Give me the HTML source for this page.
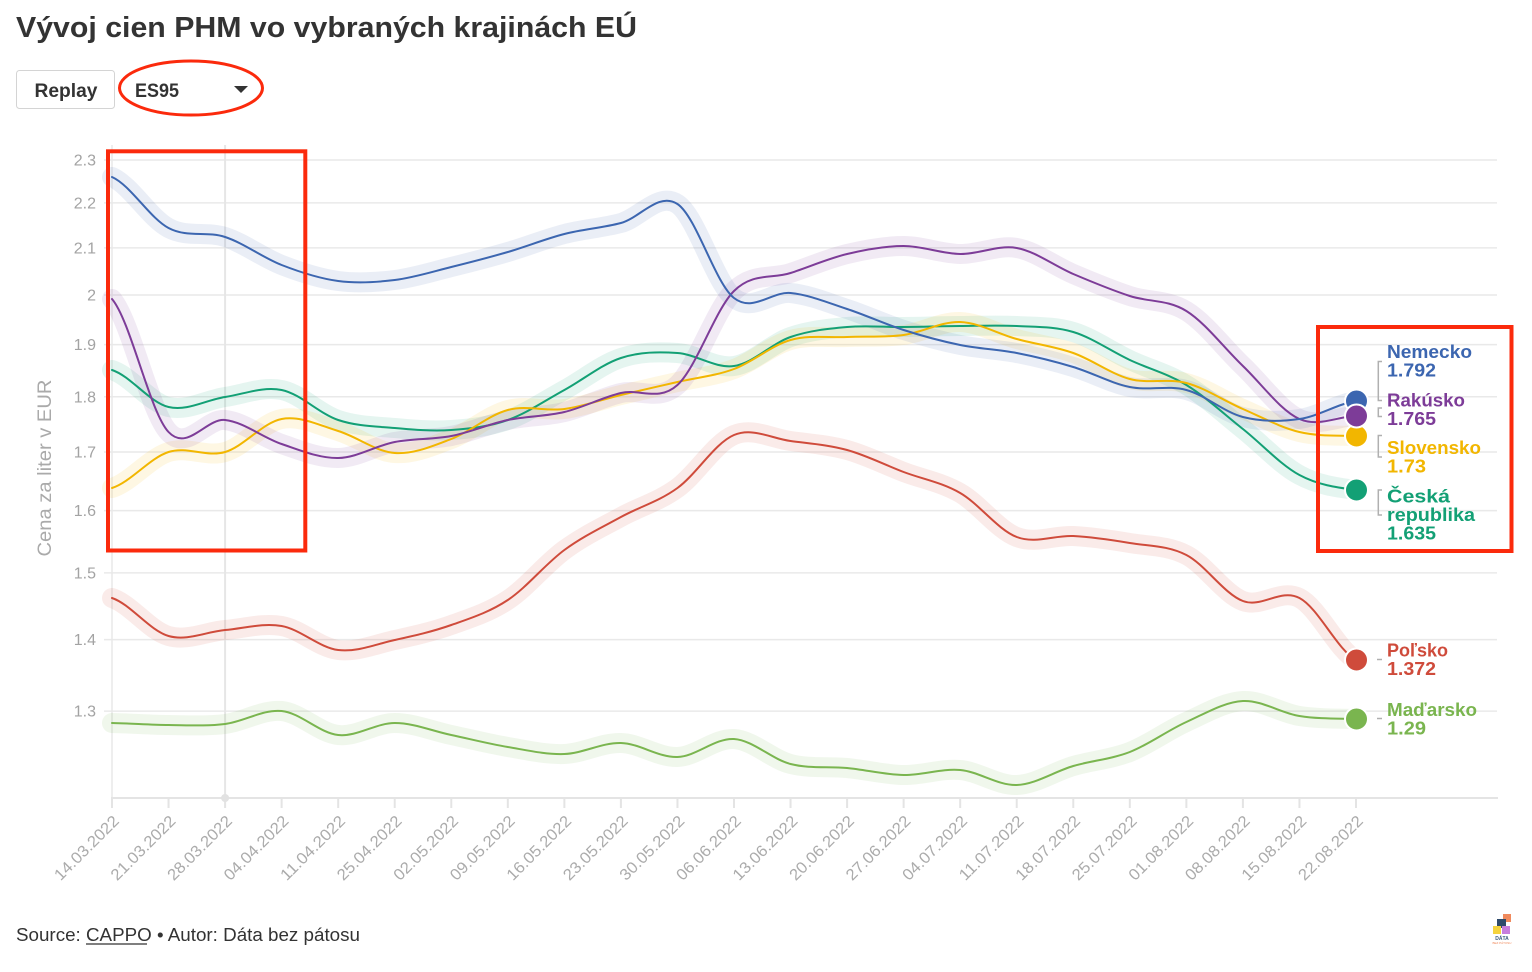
<!DOCTYPE html>
<html><head><meta charset="utf-8"><style>
html,body{margin:0;padding:0;background:#fff;}
svg{display:block;font-family:"Liberation Sans",sans-serif;}
</style></head><body>
<svg width="1532" height="972" viewBox="0 0 1532 972" xmlns="http://www.w3.org/2000/svg">
<rect width="1532" height="972" fill="#fff"/>
<!-- Title -->
<text x="16" y="37" font-size="29" font-weight="bold" fill="#333" textLength="621" lengthAdjust="spacingAndGlyphs">Vývoj cien PHM vo vybraných krajinách EÚ</text>
<!-- Replay button -->
<rect x="16.5" y="70.5" width="98" height="38" rx="3" fill="#fff" stroke="#d4d4d4"/>
<text x="34.5" y="97" font-size="19" font-weight="bold" fill="#333" textLength="63" lengthAdjust="spacingAndGlyphs">Replay</text>
<!-- Dropdown -->
<text x="135" y="97" font-size="19" font-weight="bold" fill="#333" textLength="44" lengthAdjust="spacingAndGlyphs">ES95</text>
<polygon points="234,86 248,86 241,93" fill="#333"/>
<ellipse cx="191" cy="88" rx="71.5" ry="27" fill="none" stroke="#fb2a0c" stroke-width="3"/>

<!-- gridlines -->
<g stroke="#e9e9e9" stroke-width="1.5">
<line x1="104" y1="160" x2="1497" y2="160"/>
<line x1="104" y1="202.9" x2="1497" y2="202.9"/>
<line x1="104" y1="247.9" x2="1497" y2="247.9"/>
<line x1="104" y1="295" x2="1497" y2="295"/>
<line x1="104" y1="344.6" x2="1497" y2="344.6"/>
<line x1="104" y1="396.8" x2="1497" y2="396.8"/>
<line x1="104" y1="452" x2="1497" y2="452"/>
<line x1="104" y1="510.6" x2="1497" y2="510.6"/>
<line x1="104" y1="572.9" x2="1497" y2="572.9"/>
<line x1="104" y1="639.6" x2="1497" y2="639.6"/>
<line x1="104" y1="711.1" x2="1497" y2="711.1"/>
</g>
<line x1="112" y1="145" x2="112" y2="798" stroke="#e8e8e8" stroke-width="1.5"/>
<line x1="225.09" y1="145" x2="225.09" y2="798" stroke="#e6e6e6" stroke-width="2"/>
<!-- x axis -->
<line x1="111" y1="798" x2="1498" y2="798" stroke="#e4e4e4" stroke-width="2"/>
<g stroke="#e4e4e4" stroke-width="2">
<line x1="112" y1="798" x2="112" y2="808"/><line x1="168.55" y1="798" x2="168.55" y2="808"/><line x1="225.09" y1="798" x2="225.09" y2="808"/><line x1="281.64" y1="798" x2="281.64" y2="808"/><line x1="338.18" y1="798" x2="338.18" y2="808"/><line x1="394.73" y1="798" x2="394.73" y2="808"/><line x1="451.27" y1="798" x2="451.27" y2="808"/><line x1="507.82" y1="798" x2="507.82" y2="808"/><line x1="564.36" y1="798" x2="564.36" y2="808"/><line x1="620.91" y1="798" x2="620.91" y2="808"/><line x1="677.45" y1="798" x2="677.45" y2="808"/><line x1="734" y1="798" x2="734" y2="808"/><line x1="790.55" y1="798" x2="790.55" y2="808"/><line x1="847.09" y1="798" x2="847.09" y2="808"/><line x1="903.64" y1="798" x2="903.64" y2="808"/><line x1="960.18" y1="798" x2="960.18" y2="808"/><line x1="1016.73" y1="798" x2="1016.73" y2="808"/><line x1="1073.27" y1="798" x2="1073.27" y2="808"/><line x1="1129.82" y1="798" x2="1129.82" y2="808"/><line x1="1186.36" y1="798" x2="1186.36" y2="808"/><line x1="1242.91" y1="798" x2="1242.91" y2="808"/><line x1="1299.45" y1="798" x2="1299.45" y2="808"/><line x1="1356" y1="798" x2="1356" y2="808"/>
</g>
<circle cx="225.09" cy="798" r="4" fill="#e2e2e2"/>

<!-- y tick labels -->
<g font-size="16" fill="#a3a3a3" text-anchor="end">
<text x="96" y="165.5">2.3</text>
<text x="96" y="208.4">2.2</text>
<text x="96" y="253.4">2.1</text>
<text x="96" y="300.5">2</text>
<text x="96" y="350.1">1.9</text>
<text x="96" y="402.3">1.8</text>
<text x="96" y="457.5">1.7</text>
<text x="96" y="516.1">1.6</text>
<text x="96" y="578.4">1.5</text>
<text x="96" y="645.1">1.4</text>
<text x="96" y="716.6">1.3</text>
</g>
<text transform="translate(51,468) rotate(-90)" text-anchor="middle" font-size="19" fill="#aaa" textLength="177" lengthAdjust="spacingAndGlyphs">Cena za liter v EUR</text>

<!-- x labels -->
<g font-size="16" fill="#ababab" text-anchor="end">
<text transform="translate(120,822) rotate(-45)" textLength="84" lengthAdjust="spacingAndGlyphs">14.03.2022</text>
<text transform="translate(176.55,822) rotate(-45)" textLength="84" lengthAdjust="spacingAndGlyphs">21.03.2022</text>
<text transform="translate(233.09,822) rotate(-45)" textLength="84" lengthAdjust="spacingAndGlyphs">28.03.2022</text>
<text transform="translate(289.64,822) rotate(-45)" textLength="84" lengthAdjust="spacingAndGlyphs">04.04.2022</text>
<text transform="translate(346.18,822) rotate(-45)" textLength="84" lengthAdjust="spacingAndGlyphs">11.04.2022</text>
<text transform="translate(402.73,822) rotate(-45)" textLength="84" lengthAdjust="spacingAndGlyphs">25.04.2022</text>
<text transform="translate(459.27,822) rotate(-45)" textLength="84" lengthAdjust="spacingAndGlyphs">02.05.2022</text>
<text transform="translate(515.82,822) rotate(-45)" textLength="84" lengthAdjust="spacingAndGlyphs">09.05.2022</text>
<text transform="translate(572.36,822) rotate(-45)" textLength="84" lengthAdjust="spacingAndGlyphs">16.05.2022</text>
<text transform="translate(628.91,822) rotate(-45)" textLength="84" lengthAdjust="spacingAndGlyphs">23.05.2022</text>
<text transform="translate(685.45,822) rotate(-45)" textLength="84" lengthAdjust="spacingAndGlyphs">30.05.2022</text>
<text transform="translate(742,822) rotate(-45)" textLength="84" lengthAdjust="spacingAndGlyphs">06.06.2022</text>
<text transform="translate(798.55,822) rotate(-45)" textLength="84" lengthAdjust="spacingAndGlyphs">13.06.2022</text>
<text transform="translate(855.09,822) rotate(-45)" textLength="84" lengthAdjust="spacingAndGlyphs">20.06.2022</text>
<text transform="translate(911.64,822) rotate(-45)" textLength="84" lengthAdjust="spacingAndGlyphs">27.06.2022</text>
<text transform="translate(968.18,822) rotate(-45)" textLength="84" lengthAdjust="spacingAndGlyphs">04.07.2022</text>
<text transform="translate(1024.73,822) rotate(-45)" textLength="84" lengthAdjust="spacingAndGlyphs">11.07.2022</text>
<text transform="translate(1081.27,822) rotate(-45)" textLength="84" lengthAdjust="spacingAndGlyphs">18.07.2022</text>
<text transform="translate(1137.82,822) rotate(-45)" textLength="84" lengthAdjust="spacingAndGlyphs">25.07.2022</text>
<text transform="translate(1194.36,822) rotate(-45)" textLength="84" lengthAdjust="spacingAndGlyphs">01.08.2022</text>
<text transform="translate(1250.91,822) rotate(-45)" textLength="84" lengthAdjust="spacingAndGlyphs">08.08.2022</text>
<text transform="translate(1307.45,822) rotate(-45)" textLength="84" lengthAdjust="spacingAndGlyphs">15.08.2022</text>
<text transform="translate(1364,822) rotate(-45)" textLength="84" lengthAdjust="spacingAndGlyphs">22.08.2022</text>
</g>

<!-- series paths -->
<defs>
<path id="pBlue" d="M112,177 C130.85,185.5 149.7,218 168.55,228 S206.24,230.83 225.09,237 S262.79,257.67 281.64,265 S319.33,278.5 338.18,281 S375.88,282.33 394.73,280 S432.42,271.67 451.27,267 S488.97,257.5 507.82,252 S545.51,238.83 564.36,234 S602.06,228 620.91,223 S658.6,191.5 677.45,204 S715.15,283.17 734,298 S771.7,291.17 790.55,293 S828.24,302.83 847.09,309 S884.79,324 903.64,330 S941.33,341.17 960.18,345 S997.88,349.33 1016.73,353 S1054.42,361.33 1073.27,367 S1110.97,383.17 1129.82,387 S1167.51,385 1186.36,390 S1224.06,412.17 1242.91,417 S1280.6,421.67 1299.45,419 S1337.15,404 1356,401"/>
<path id="pPurple" d="M112,299 C130.85,321.17 149.7,411.83 168.55,432 S206.24,418 225.09,420 S262.79,437.67 281.64,444 S319.33,458.33 338.18,458 S375.88,445.67 394.73,442 S432.42,439.67 451.27,436 S488.97,424 507.82,420 S545.51,416.5 564.36,412 S602.06,397.5 620.91,393 S658.6,402 677.45,385 S715.15,309.67 734,291 S771.7,279.17 790.55,273 S828.24,258.5 847.09,254 S884.79,246 903.64,246 S941.33,253.67 960.18,254 S997.88,244.67 1016.73,248 S1054.42,266 1073.27,274 S1110.97,289.83 1129.82,296 S1167.51,299.33 1186.36,311 S1224.06,348 1242.91,366 S1280.6,410.67 1299.45,419 S1337.15,416.5 1356,416"/>
<path id="pYellow" d="M112,488 C130.85,482 149.7,458 168.55,452 S206.24,457.5 225.09,452 S262.79,422.5 281.64,419 S319.33,425.33 338.18,431 S375.88,451.67 394.73,453 S432.42,446.17 451.27,439 S488.97,415 507.82,410 S545.51,411.5 564.36,409 S602.06,399.5 620.91,395 S658.6,386.33 677.45,382 S715.15,376 734,369 S771.7,345.33 790.55,340 S828.24,337.83 847.09,337 S884.79,337.5 903.64,335 S941.33,321.33 960.18,322 S997.88,333.83 1016.73,339 S1054.42,346.33 1073.27,353 S1110.97,374 1129.82,379 S1167.51,378 1186.36,383 S1224.06,400.83 1242.91,409 S1280.6,427.5 1299.45,432 S1337.15,435.33 1356,436"/>
<path id="pGreen" d="M112,370 C130.85,376.17 149.7,402.5 168.55,407 S206.24,399.83 225.09,397 S262.79,386.17 281.64,390 S319.33,413.67 338.18,420 S375.88,426.33 394.73,428 S432.42,431.33 451.27,430 S488.97,426.67 507.82,420 S545.51,400.33 564.36,390 S602.06,364.17 620.91,358 S658.6,351.67 677.45,353 S715.15,368.67 734,366 S771.7,343.5 790.55,337 S828.24,328.67 847.09,327 S884.79,327.17 903.64,327 S941.33,326.17 960.18,326 S997.88,325 1016.73,326 S1054.42,326.33 1073.27,332 S1110.97,351.17 1129.82,360 S1167.51,373.5 1186.36,385 S1224.06,414 1242.91,429 S1280.6,464.83 1299.45,475 S1337.15,487.5 1356,490"/>
<path id="pRed" d="M112,598 C130.85,604.33 149.7,630.67 168.55,636 S206.24,631.67 225.09,630 S262.79,622.67 281.64,626 S319.33,647.67 338.18,650 S375.88,644.17 394.73,640 S432.42,631.67 451.27,625 S488.97,612.5 507.82,600 S545.51,563.83 564.36,550 S602.06,527.33 620.91,517 S658.6,501.67 677.45,488 S715.15,442.83 734,435 S771.7,438.5 790.55,441 S828.24,444.83 847.09,450 S884.79,464.83 903.64,472 S941.33,482.17 960.18,493 S997.88,529.83 1016.73,537 S1054.42,535 1073.27,536 S1110.97,539.83 1129.82,543 S1167.51,545.33 1186.36,555 S1224.06,593.83 1242.91,601 S1280.6,588.17 1299.45,598 S1337.15,649.67 1356,660"/>
<path id="pLime" d="M112,723 C130.85,723.33 149.7,724.83 168.55,725 S206.24,726.33 225.09,724 S262.79,709.17 281.64,711 S319.33,733 338.18,735 S375.88,723 394.73,723 S432.42,731 451.27,735 S488.97,743.83 507.82,747 S545.51,754.67 564.36,754 S602.06,742.5 620.91,743 S658.6,757.67 677.45,757 S715.15,737.83 734,739 S771.7,759.17 790.55,764 S828.24,766.17 847.09,768 S884.79,774.67 903.64,775 S941.33,768.33 960.18,770 S997.88,785.67 1016.73,785 S1054.42,771.5 1073.27,766 S1110.97,759.33 1129.82,752 S1167.51,730.5 1186.36,722 S1224.06,702 1242.91,701 S1280.6,713 1299.45,716 S1337.15,718.5 1356,719"/>
</defs>
<!-- halos -->
<g fill="none" stroke-width="20" stroke-linecap="round" stroke-linejoin="round" stroke-opacity="0.11">
<use href="#pLime" stroke="#7ab54f"/>
<use href="#pRed" stroke="#cf4b3b"/>
<use href="#pGreen" stroke="#13a075"/>
<use href="#pYellow" stroke="#f5b800"/>
<use href="#pPurple" stroke="#7d3c98"/>
<use href="#pBlue" stroke="#3c66b0"/>
</g>
<!-- lines -->
<g fill="none" stroke-width="2" stroke-linecap="round" stroke-linejoin="round">
<use href="#pLime" stroke="#7ab54f"/>
<use href="#pRed" stroke="#cf4b3b"/>
<use href="#pGreen" stroke="#13a075"/>
<use href="#pYellow" stroke="#f2b600"/>
<use href="#pPurple" stroke="#7d3c98"/>
<use href="#pBlue" stroke="#3c66b0"/>
</g>

<!-- markers -->
<g stroke="#fff" stroke-width="2">
<circle cx="1356.5" cy="719" r="11.5" fill="#7ab54f"/>
<circle cx="1356.5" cy="660" r="11.5" fill="#cf4b3b"/>
<circle cx="1356.5" cy="490" r="11.5" fill="#13a075"/>
<circle cx="1356.5" cy="436" r="11.5" fill="#f2b600"/>
<circle cx="1356.5" cy="401" r="11.5" fill="#3c66b0"/>
<circle cx="1356.5" cy="416" r="11.5" fill="#7d3c98"/>
</g>
<!-- connectors -->
<g fill="none" stroke="#b0b0b0" stroke-width="1.5">
<path d="M1382,361.5 H1378.3 V400.5 H1382"/>
<path d="M1382,408 H1378.3 V416.5 H1382"/>
<path d="M1382,435.5 H1378.3 V457 H1382"/>
<path d="M1382,490 H1378.3 V515 H1382"/>
<path d="M1377,659.5 H1382"/>
<path d="M1377,718.5 H1382"/>
</g>
<!-- end labels -->
<g font-size="18" font-weight="bold">
<text x="1387" y="358" fill="#3c66b0" textLength="85" lengthAdjust="spacingAndGlyphs">Nemecko</text>
<text x="1387" y="376.5" fill="#3c66b0" textLength="49" lengthAdjust="spacingAndGlyphs">1.792</text>
<text x="1387" y="406.5" fill="#7d3c98" textLength="78" lengthAdjust="spacingAndGlyphs">Rakúsko</text>
<text x="1387" y="425" fill="#7d3c98" textLength="49" lengthAdjust="spacingAndGlyphs">1.765</text>
<text x="1387" y="454" fill="#f2b600" textLength="94" lengthAdjust="spacingAndGlyphs">Slovensko</text>
<text x="1387" y="472.5" fill="#f2b600" textLength="39" lengthAdjust="spacingAndGlyphs">1.73</text>
<text x="1387" y="502.5" fill="#13a075" textLength="63" lengthAdjust="spacingAndGlyphs">Česká</text>
<text x="1387" y="521" fill="#13a075" textLength="88" lengthAdjust="spacingAndGlyphs">republika</text>
<text x="1387" y="539.5" fill="#13a075" textLength="49" lengthAdjust="spacingAndGlyphs">1.635</text>
<text x="1387" y="656.5" fill="#cf4b3b" textLength="61" lengthAdjust="spacingAndGlyphs">Poľsko</text>
<text x="1387" y="675" fill="#cf4b3b" textLength="49" lengthAdjust="spacingAndGlyphs">1.372</text>
<text x="1387" y="716" fill="#7ab54f" textLength="90" lengthAdjust="spacingAndGlyphs">Maďarsko</text>
<text x="1387" y="734.5" fill="#7ab54f" textLength="39" lengthAdjust="spacingAndGlyphs">1.29</text>
</g>

<!-- red annotation boxes -->
<rect x="108" y="151.3" width="197.3" height="399.2" fill="none" stroke="#fb2a0c" stroke-width="4"/>
<rect x="1318" y="327" width="193.5" height="224" fill="none" stroke="#fb2a0c" stroke-width="4"/>

<!-- footer -->
<text x="16" y="941" font-size="18" fill="#333" textLength="344" lengthAdjust="spacingAndGlyphs">Source: <tspan>CAPPO</tspan> • Autor: Dáta bez pátosu</text>
<line x1="86" y1="944" x2="147" y2="944" stroke="#333" stroke-width="1.2"/>

<!-- logo -->
<rect x="1503" y="914" width="8" height="8" fill="#f08a5d"/>
<rect x="1497" y="919" width="9" height="9" fill="#2e4a6b"/>
<rect x="1493" y="926" width="8" height="8" fill="#f5d33e"/>
<rect x="1502" y="926" width="8" height="8" fill="#c77dde"/>
<text x="1502" y="940" font-size="5" fill="#3a5a80" text-anchor="middle" font-weight="bold">DÁTA</text>
<text x="1502" y="944" font-size="3" fill="#f08a5d" text-anchor="middle">BEZ PÁTOSU</text>
</svg>
</body></html>
